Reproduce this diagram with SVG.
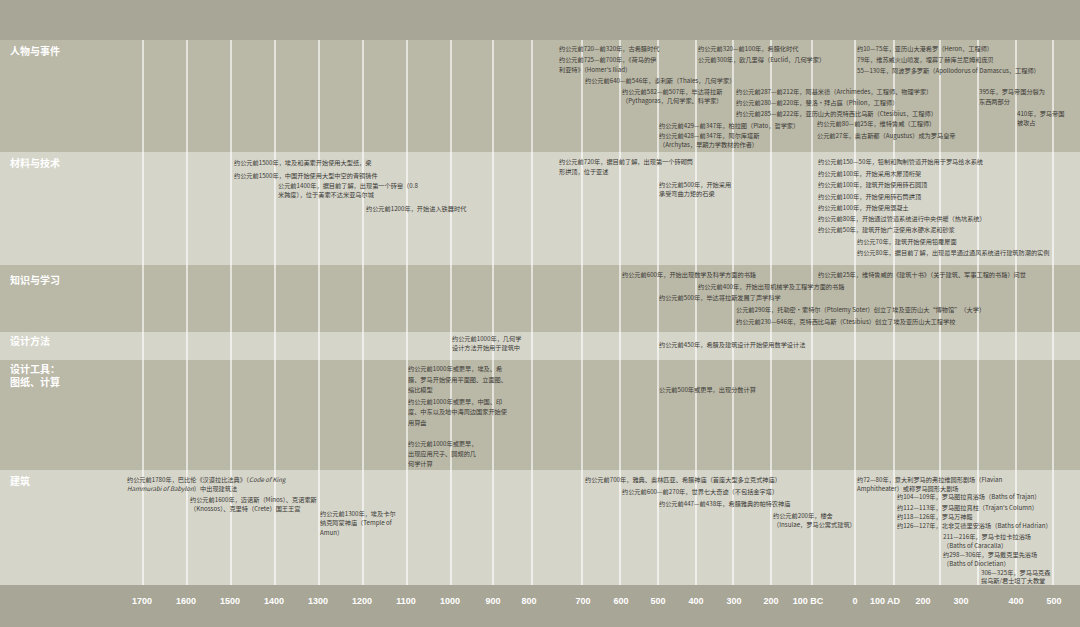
<svg xmlns="http://www.w3.org/2000/svg" width="1080" height="627" viewBox="0 0 1080 627">
<style>
.t{font-family:"Noto Sans CJK SC","Noto Sans",sans-serif;font-size:6.2px;fill:#3a3a36}
.c{font-family:"Noto Sans CJK SC","Noto Sans",sans-serif;font-size:10px;font-weight:bold;fill:#ffffff}
.a{font-family:"Liberation Sans",Arial,sans-serif;font-size:9px;font-weight:bold;fill:#ffffff;text-anchor:middle}
.g{stroke:#ffffff;stroke-width:1.2}
.dk{fill:#bab8a7}
.lt{fill:#d6d5ca}
</style>
<rect x="0" y="0" width="1080" height="627" fill="#a8a696"/>
<g id="bands">
<rect class="dk" x="0" y="40" width="1080" height="112"/>
<rect class="lt" x="0" y="152" width="1080" height="113"/>
<rect class="dk" x="0" y="265" width="1080" height="67"/>
<rect class="lt" x="0" y="332" width="1080" height="28"/>
<rect class="dk" x="0" y="360" width="1080" height="110"/>
<rect class="lt" x="0" y="470" width="1080" height="115"/>
</g>
<g id="gridlines" class="g">
<line x1="143" y1="40" x2="143" y2="585"/><line x1="187" y1="40" x2="187" y2="585"/>
<line x1="231" y1="40" x2="231" y2="585"/><line x1="275" y1="40" x2="275" y2="585"/>
<line x1="319" y1="40" x2="319" y2="585"/><line x1="363" y1="40" x2="363" y2="585"/>
<line x1="407" y1="40" x2="407" y2="585"/><line x1="451" y1="40" x2="451" y2="585"/>
<line x1="493" y1="40" x2="493" y2="585"/><line x1="532" y1="40" x2="532" y2="585"/>
<line x1="582" y1="40" x2="582" y2="585"/><line x1="620" y1="40" x2="620" y2="585"/>
<line x1="658" y1="40" x2="658" y2="585"/><line x1="696" y1="40" x2="696" y2="585"/>
<line x1="733" y1="40" x2="733" y2="585"/><line x1="771" y1="40" x2="771" y2="585"/>
<line x1="812" y1="40" x2="812" y2="585"/><line x1="855" y1="40" x2="855" y2="585"/>
<line x1="894" y1="40" x2="894" y2="585"/><line x1="940" y1="40" x2="940" y2="585"/>
<line x1="978" y1="40" x2="978" y2="585"/><line x1="1016" y1="40" x2="1016" y2="585"/>
<line x1="1053" y1="40" x2="1053" y2="585"/>
</g>
<g id="connectors"></g>
<g id="row-people">
<text class="c" x="10" y="55">人物与事件</text>
<text class="t" x="559" y="51">约公元前720—前320年，古希腊时代</text>
<text class="t" x="559" y="62">约公元前725—前700年，《荷马的伊</text>
<text class="t" x="559" y="72">利亚特》（Homer's Iliad）</text>
<text class="t" x="585" y="83">约公元前640—前546年，泰利斯（Thales，几何学家）</text>
<text class="t" x="622" y="94">约公元前582—前507年，毕达哥拉斯</text>
<text class="t" x="622" y="103">（Pythagoras，几何学家、科学家）</text>
<text class="t" x="659" y="128">约公元前429—前347年，柏拉图（Plato，哲学家）</text>
<text class="t" x="659" y="138">约公元前428—前347年，阿尔库塔斯</text>
<text class="t" x="659" y="147">（Archytas，早期力学教材的作者）</text>
<text class="t" x="698" y="51">约公元前320—前100年，希腊化时代</text>
<text class="t" x="698" y="62">公元前300年，欧几里得（Euclid，几何学家）</text>
<text class="t" x="736" y="94">约公元前287—前212年，阿基米德（Archimedes，工程师、物理学家）</text>
<text class="t" x="736" y="105">约公元前280—前220年，斐洛·拜占庭（Philon，工程师）</text>
<text class="t" x="736" y="116">约公元前285—前222年，亚历山大的克特西比乌斯（Ctesibius，工程师）</text>
<text class="t" x="817" y="126">约公元前80—前25年，维特鲁威（工程师）</text>
<text class="t" x="817" y="138">公元前27年，奥古斯都（Augustus）成为罗马皇帝</text>
<text class="t" x="857" y="51">约10—75年，亚历山大港希罗（Heron，工程师）</text>
<text class="t" x="857" y="62">79年，维苏威火山喷发，埋葬了赫库兰尼姆和庞贝</text>
<text class="t" x="857" y="73">55—130年，阿波罗多罗斯（Apollodorus of Damascus，工程师）</text>
<text class="t" x="979" y="94">395年，罗马帝国分裂为</text>
<text class="t" x="979" y="104">东西两部分</text>
<text class="t" x="1017" y="116">410年，罗马帝国</text>
<text class="t" x="1017" y="125">被攻占</text>
</g>
<g id="row-materials">
<text class="c" x="10" y="167">材料与技术</text>
<text class="t" x="234" y="165">约公元前1500年，埃及和美索开始使用大型纸，梁</text>
<text class="t" x="234" y="178">约公元前1500年，中国开始使用大型中空的青铜铸件</text>
<text class="t" x="278" y="188">公元前1400年，据目前了解，出现第一个砖窑（0.8</text>
<text class="t" x="278" y="197">米跨度），位于美索不达米亚乌尔城</text>
<text class="t" x="366" y="211">约公元前1200年，开始进入铁器时代</text>
<text class="t" x="559" y="164">约公元前720年，据目前了解，出现第一个砖砌筒</text>
<text class="t" x="559" y="174">形拱顶，位于亚述</text>
<text class="t" x="659" y="187">约公元前500年，开始采用</text>
<text class="t" x="659" y="196">承受弯曲力矩的石梁</text>
<text class="t" x="818" y="164">约公元前150—50年，铅制和陶制管道开始用于罗马给水系统</text>
<text class="t" x="818" y="176">约公元前100年，开始采用木屋顶桁架</text>
<text class="t" x="818" y="187">约公元前100年，建筑开始使用砖石圆顶</text>
<text class="t" x="818" y="199">约公元前100年，开始使用砖石筒拱顶</text>
<text class="t" x="818" y="210">约公元前100年，开始使用混凝土</text>
<text class="t" x="818" y="221">约公元前80年，开始通过管道系统进行中央供暖（热坑系统）</text>
<text class="t" x="818" y="232">约公元前50年，建筑开始广泛使用水硬水泥和砂浆</text>
<text class="t" x="857" y="244">约公元70年，建筑开始使用铅覆屋面</text>
<text class="t" x="857" y="255">约公元80年，据目前了解，出现最早通过通风系统进行建筑防潮的实例</text>
</g>
<g id="row-knowledge">
<text class="c" x="10" y="284">知识与学习</text>
<text class="t" x="622" y="277">约公元前600年，开始出现数学及科学方面的书籍</text>
<text class="t" x="698" y="289">约公元前400年，开始出现机械学及工程学方面的书籍</text>
<text class="t" x="659" y="300">约公元前500年，毕达哥拉斯发展了声学科学</text>
<text class="t" x="736" y="312">公元前290年，托勒密·索特尔（Ptolemy Soter）创立了埃及亚历山大“博物馆”（大学）</text>
<text class="t" x="736" y="324">约公元前230—646年，克特西比乌斯（Ctesibius）创立了埃及亚历山大工程学校</text>
<text class="t" x="818" y="277">约公元前25年，维特鲁威的《建筑十书》（关于建筑、军事工程的书籍）问世</text>
</g>
<g id="row-method">
<text class="c" x="10" y="345">设计方法</text>
<text class="t" x="452" y="341">约公元前1000年，几何学</text>
<text class="t" x="452" y="350">设计方法开始用于建筑中</text>
<text class="t" x="659" y="347">约公元前450年，希腊及建筑设计开始使用数学设计法</text>
</g>
<g id="row-tools">
<text class="c" x="10" y="373">设计工具：</text>
<text class="c" x="10" y="386">图纸、计算</text>
<text class="t" x="408" y="371">约公元前1000年或更早，埃及、希</text>
<text class="t" x="408" y="382">腊、罗马开始使用平面图、立面图、</text>
<text class="t" x="408" y="392">缩比模型</text>
<text class="t" x="408" y="404">约公元前1000年或更早，中国、印</text>
<text class="t" x="408" y="414">度、中东以及地中海周边国家开始使</text>
<text class="t" x="408" y="425">用算盘</text>
<text class="t" x="408" y="446">约公元前1000年或更早，</text>
<text class="t" x="408" y="456">出现应用尺子、圆规的几</text>
<text class="t" x="408" y="466">何学计算</text>
<text class="t" x="659" y="392">公元前500年或更早，出现分数计算</text>
</g>
<g id="row-architecture">
<text class="c" x="10" y="485">建筑</text>
<text class="t" x="127" y="482">约公元前1780年，巴比伦《汉谟拉比法典》（<tspan font-style="italic">Code of King</tspan></text>
<text class="t" x="127" y="491"><tspan font-style="italic">Hammurabi of Babylon</tspan>）中出现建筑法</text>
<text class="t" x="190" y="502">约公元前1600年，迈诺斯（Minos）、克诺索斯</text>
<text class="t" x="190" y="511">（Knossos）、克里特（Crete）国王王宫</text>
<text class="t" x="320" y="516">约公元前1300年，埃及卡尔</text>
<text class="t" x="320" y="525">纳克阿蒙神庙（Temple of</text>
<text class="t" x="320" y="535">Amun）</text>
<text class="t" x="585" y="482">约公元前700年，雅典、奥林匹亚、希腊神庙（首座大型多立克式神庙）</text>
<text class="t" x="622" y="494">约公元前600—前270年，世界七大奇迹（不包括金字塔）</text>
<text class="t" x="659" y="506">约公元前447—前438年，希腊雅典的帕特农神庙</text>
<text class="t" x="773" y="518">约公元前200年，楼舍</text>
<text class="t" x="773" y="527">（Insulae，罗马公寓式建筑）</text>
<text class="t" x="857" y="482">约72—80年，意大利罗马的弗拉维圆形剧场（Flavian</text>
<text class="t" x="857" y="491">Amphitheater）或称罗马圆形大剧场</text>
<text class="t" x="897" y="499">约104—109年，罗马图拉真浴场（Baths of Trajan）</text>
<text class="t" x="897" y="510">约112—113年，罗马图拉真柱（Trajan's Column）</text>
<text class="t" x="897" y="519">约118—126年，罗马万神殿</text>
<text class="t" x="897" y="528">约126—127年，北非艾德里安浴场（Baths of Hadrian）</text>
<text class="t" x="943" y="539">211—216年，罗马卡拉卡拉浴场</text>
<text class="t" x="943" y="548">（Baths of Caracalla）</text>
<text class="t" x="943" y="557">约298—306年，罗马戴克里先浴场</text>
<text class="t" x="943" y="566">（Baths of Diocletian）</text>
<text class="t" x="981" y="575">306—325年，罗马马克森</text>
<text class="t" x="981" y="583">提乌斯/君士坦丁大教堂</text>
</g>
<g id="axis">
<text class="a" x="142" y="604">1700</text><text class="a" x="186" y="604">1600</text>
<text class="a" x="230" y="604">1500</text><text class="a" x="274" y="604">1400</text>
<text class="a" x="318" y="604">1300</text><text class="a" x="362" y="604">1200</text>
<text class="a" x="406" y="604">1100</text><text class="a" x="450" y="604">1000</text>
<text class="a" x="493" y="604">900</text><text class="a" x="529" y="604">800</text>
<text class="a" x="583" y="604">700</text><text class="a" x="621" y="604">600</text>
<text class="a" x="658" y="604">500</text><text class="a" x="696" y="604">400</text>
<text class="a" x="734" y="604">300</text><text class="a" x="771" y="604">200</text>
<text class="a" x="808" y="604">100 BC</text><text class="a" x="855" y="604">0</text>
<text class="a" x="885" y="604">100 AD</text><text class="a" x="923" y="604">200</text>
<text class="a" x="961" y="604">300</text><text class="a" x="1016" y="604">400</text>
<text class="a" x="1054" y="604">500</text>
</g>
</svg>
